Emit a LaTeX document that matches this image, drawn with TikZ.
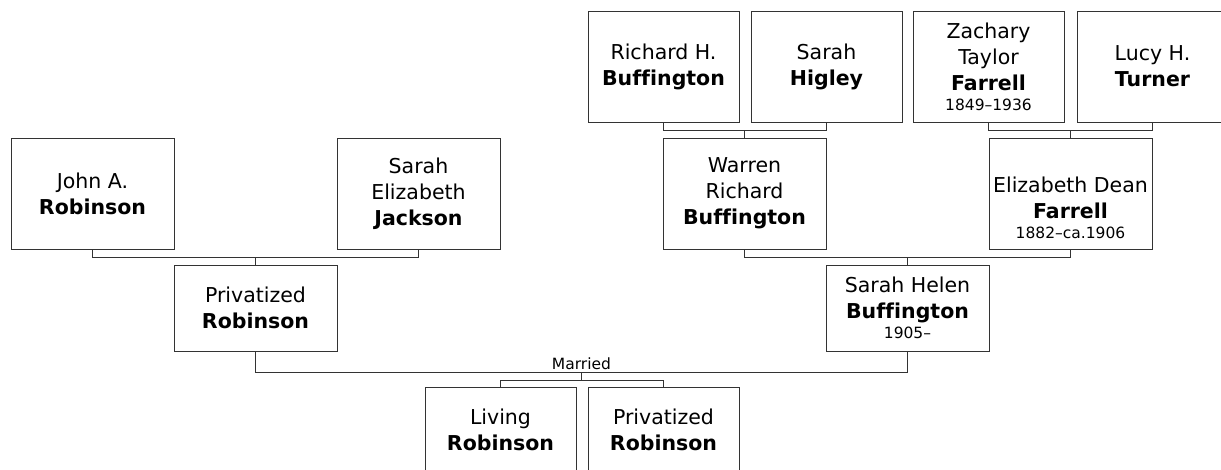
\documentclass[tikz,border=0pt]{standalone}
\usepackage{fontspec}
\setmainfont{DejaVu Sans}[Ligatures={TeX,NoCommon}]
\usetikzlibrary{calc}
\definecolor{linegray}{HTML}{333333}
\newcommand\lifespan[1]{\\[-6pt]{\fontsize{15.5}{19}\selectfont #1}}
\tikzset{
 person/.style={draw=linegray,line width=1pt,inner sep=0pt,align=center,
  font=\fontsize{20.5}{26}\selectfont},
 ancbox/.style={person,minimum width=151pt,minimum height=111pt},
 gpbox/.style={person,minimum width=163pt,minimum height=111pt},
 pbox/.style={person,minimum width=163pt,minimum height=86pt},
 kidbox/.style={person,minimum width=151pt,minimum height=86pt},
 link/.style={draw=linegray,line width=1pt},
}

\begin{document}
\begin{tikzpicture}[x=1pt,y=-1pt]
 \useasboundingbox (0,0) rectangle (1221,469);
 % top row
 \node[ancbox] (rhb) at (663.5,66.5) {Richard H.\\\textbf{Buffington}};
 \node[ancbox] (shg) at (826.5,66.5) {Sarah\\\textbf{Higley}};
 \node[ancbox] (ztf) at (988.5,66.5) {Zachary\\Taylor\\\textbf{Farrell}\lifespan{1849--1936}};
 \node[ancbox] (lht) at (1152.5,66.5) {Lucy H.\\\textbf{Turner}};
 % grandparents
 \node[gpbox] (jar) at (92.5,193.5) {John A.\\\textbf{Robinson}};
 \node[gpbox] (sej) at (418.5,193.5) {Sarah\\Elizabeth\\\textbf{Jackson}};
 \node[gpbox] (wrb) at (744.5,193.5) {Warren\\Richard\\\textbf{Buffington}};
 \node[gpbox] (edf) at (1070.5,193.5) {\strut\\Elizabeth Dean\\\textbf{Farrell}\lifespan{1882--ca.1906}};
 % parents
 \node[pbox] (pvr) at (255.5,308) {Privatized\\\textbf{Robinson}};
 \node[pbox] (shb) at (907.5,308) {Sarah Helen\\\textbf{Buffington}\lifespan{1905--}};
 % children
 \node[kidbox] (lvr) at (500.5,430) {Living\\\textbf{Robinson}};
 \node[kidbox] (pvc) at (663.5,430) {Privatized\\\textbf{Robinson}};

 % parent links
 \draw[link] (rhb.south) -- ++(0,8) -| (shg.south);
 \draw[link] (wrb.north) -- ++(0,-8);
 \draw[link] (ztf.south) -- ++(0,8) -| (lht.south);
 \draw[link] (edf.north) -- ++(0,-8);
 \draw[link] (jar.south) -- ++(0,8) -| (sej.south);
 \draw[link] (pvr.north) -- ++(0,-8);
 \draw[link] (wrb.south) -- ++(0,8) -| (edf.south);
 \draw[link] (shb.north) -- ++(0,-8);

 % marriage
 \coordinate (wed) at ($(pvr.south)!.5!(shb.south)+(0,21)$);
 \draw[link] (pvr.south) |- (wed) -| (shb.south);
 \node[above,inner sep=2.5pt,font=\fontsize{15.5}{19}\selectfont] (mar) at (wed) {Married};
 \draw[link] (wed) -- ++(0,8) coordinate (kids);
 \draw[link] (lvr.north) |- (kids) -| (pvc.north);
\end{tikzpicture}
\end{document}
